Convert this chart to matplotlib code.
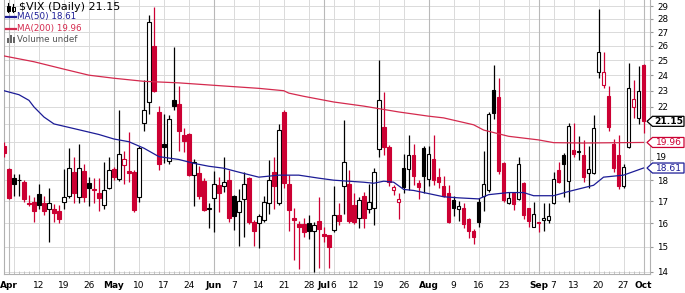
import matplotlib
matplotlib.use("Agg")
import matplotlib.pyplot as plt
import numpy as np
import pandas as pd
from matplotlib.patches import Polygon, Rectangle
from matplotlib.lines import Line2D
from matplotlib.transforms import blended_transform_factory, IdentityTransform, offset_copy

# trading days, 31 Mar - 1 Oct 2021
holidays = ["2021-04-02", "2021-05-31", "2021-07-05", "2021-09-06"]
dates = pd.bdate_range("2021-03-31", "2021-10-01")
dates = dates[~dates.isin(pd.to_datetime(holidays))]

prev_close = 19.61

opens = [19.75, 18.55, 18.10, 18.00, 17.92, 16.90, 16.97, 17.35, 16.90, 16.65,
         16.65, 16.55, 16.95, 17.25, 18.40, 17.20, 18.45, 17.85, 17.55, 17.40,
         16.80, 17.60, 18.55, 18.05, 18.75, 18.45, 18.40, 17.20, 21.05, 22.30,
         26.00, 21.70, 19.85, 18.95, 22.40, 22.20, 20.40, 20.45, 18.25, 18.35,
         17.95, 16.65, 17.15, 17.75, 17.70, 18.00, 17.25, 16.50, 17.10, 18.10,
         16.05, 16.00, 16.15, 16.90, 18.40, 16.90, 21.70, 17.80, 16.25, 15.95,
         15.95, 16.00, 15.65, 16.10, 15.55, 15.50, 15.70, 16.35, 17.70, 17.80,
         16.80, 16.25, 17.25, 16.65, 16.70, 19.60, 20.85, 19.70, 17.50, 16.95,
         18.60, 18.55, 19.30, 17.85, 19.65, 18.05, 19.05, 18.15, 17.70, 17.40,
         17.05, 16.65, 16.70, 16.20, 15.65, 16.95, 17.25, 17.50, 23.05, 22.60,
         18.85, 16.90, 17.40, 17.10, 17.85, 16.70, 15.85, 16.05, 16.15, 16.15,
         16.90, 18.50, 19.30, 17.95, 19.55, 19.50, 19.30, 18.35, 18.35, 24.20,
         23.35, 22.65, 19.85, 19.30, 17.70, 19.70, 22.00, 21.35, 24.70]
highs = [20.00, 18.60, 18.30, 18.30, 18.00, 17.27, 17.20, 17.80, 17.25, 17.60,
         16.85, 16.80, 18.55, 19.65, 19.20, 19.85, 18.80, 18.15, 18.10, 18.10,
         18.90, 19.20, 18.65, 21.80, 19.50, 20.55, 18.50, 19.75, 23.70, 28.30,
         28.90, 22.05, 21.60, 21.50, 25.90, 23.30, 20.75, 20.50, 19.10, 18.70,
         18.10, 16.90, 18.45, 18.15, 19.20, 18.50, 17.30, 17.55, 18.40, 18.15,
         16.15, 16.40, 17.25, 19.00, 19.20, 21.00, 21.80, 18.25, 16.70, 16.10,
         16.25, 16.35, 16.05, 17.20, 15.85, 15.50, 17.70, 16.90, 21.20, 18.50,
         17.40, 17.20, 17.45, 17.80, 18.60, 25.00, 22.90, 19.80, 17.75, 17.40,
         19.35, 20.40, 19.85, 18.00, 19.75, 19.75, 20.40, 18.60, 18.20, 17.75,
         17.25, 17.00, 16.90, 16.25, 15.75, 17.15, 19.50, 21.70, 24.70, 23.80,
         18.90, 17.45, 17.45, 19.20, 17.90, 16.70, 16.95, 16.05, 16.90, 16.90,
         18.40, 18.90, 19.40, 21.05, 21.05, 20.30, 20.10, 19.75, 21.50, 28.75,
         25.60, 23.30, 20.15, 20.35, 18.80, 24.80, 23.70, 24.60, 24.75]
lows = [19.20, 17.10, 17.25, 17.25, 16.95, 16.75, 16.05, 16.65, 16.35, 15.20,
        16.05, 16.00, 16.65, 17.15, 16.90, 16.90, 16.95, 16.75, 16.90, 16.55,
        16.65, 17.55, 18.00, 17.95, 17.80, 17.90, 16.50, 16.95, 20.60, 21.60,
        22.90, 18.50, 18.85, 18.80, 21.80, 19.50, 19.45, 18.20, 16.75, 17.10,
        16.55, 15.80, 15.60, 16.50, 17.45, 16.05, 15.70, 15.05, 15.40, 15.95,
        15.05, 14.95, 16.05, 16.40, 16.65, 16.80, 17.60, 15.65, 14.45, 14.10,
        15.40, 15.30, 14.00, 14.15, 15.20, 14.15, 15.60, 15.90, 16.40, 16.00,
        15.95, 15.80, 15.80, 16.45, 15.90, 19.20, 19.30, 17.70, 17.30, 16.20,
        17.40, 17.50, 17.75, 17.10, 17.40, 17.70, 17.75, 17.60, 17.20, 16.00,
        16.30, 16.10, 15.80, 15.35, 15.10, 15.85, 16.55, 17.45, 21.30, 18.30,
        16.95, 16.85, 16.60, 17.05, 16.20, 15.85, 15.85, 15.60, 15.65, 16.00,
        16.85, 17.85, 17.20, 16.95, 19.20, 19.00, 17.90, 17.60, 18.30, 23.80,
        23.20, 20.60, 18.40, 17.55, 17.60, 19.65, 21.35, 21.00, 20.50]
closes = [19.40, 17.15, 17.80, 18.03, 17.10, 16.85, 16.55, 16.80, 16.55, 16.90,
          16.45, 16.20, 17.20, 18.60, 17.40, 18.60, 17.20, 17.60, 17.50, 17.15,
          17.50, 18.50, 18.15, 19.35, 19.05, 18.35, 16.60, 19.65, 21.80, 27.80,
          23.00, 18.80, 19.72, 21.30, 22.05, 20.60, 20.05, 18.25, 18.90, 17.25,
          16.60, 16.70, 17.80, 17.40, 17.92, 16.25, 16.30, 17.00, 17.80, 16.05,
          15.65, 16.30, 16.95, 18.00, 17.70, 20.65, 17.85, 16.60, 16.15, 15.85,
          15.60, 15.68, 15.90, 15.75, 15.45, 15.00, 16.35, 16.10, 18.90, 16.10,
          16.05, 17.05, 16.25, 16.95, 18.40, 22.40, 19.70, 17.90, 17.65, 17.10,
          17.65, 19.30, 18.20, 17.65, 18.20, 19.35, 18.00, 17.93, 17.25, 16.05,
          16.70, 16.75, 15.97, 15.65, 15.40, 16.05, 17.80, 21.55, 21.65, 18.45,
          17.05, 17.15, 16.85, 18.80, 16.35, 16.10, 16.40, 16.00, 16.25, 16.30,
          18.05, 17.90, 18.80, 20.90, 19.35, 19.45, 18.15, 18.55, 20.75, 25.60,
          24.20, 20.85, 18.60, 17.70, 18.65, 23.15, 22.50, 23.00, 21.15]

# moving averages at these trading-day indices
ma50_idx = [0, 3, 5, 6, 8, 10, 13, 16, 19, 22, 25, 28, 31, 35, 38, 41, 44, 47,
            51, 55, 59, 63, 66, 69, 72, 74, 76, 78, 80, 82, 85, 88, 91, 95, 97,
            101, 104, 106, 110, 113, 118, 120, 124, 128]
ma50_val = [23.0, 22.75, 22.4, 22.0, 21.4, 21.0, 20.8, 20.6, 20.4, 20.15, 20.0,
            19.65, 19.2, 19.05, 18.85, 18.7, 18.6, 18.4, 18.15, 18.25, 18.25,
            18.1, 18.0, 17.95, 17.9, 17.85, 17.95, 17.9, 17.55, 17.5, 17.35,
            17.2, 17.15, 17.1, 17.3, 17.4, 17.4, 17.25, 17.25, 17.45, 17.75,
            18.15, 18.25, 18.61]
ma200_idx = [0, 6, 12, 17, 22, 28, 35, 44, 51, 56, 57, 60, 66, 72, 79, 85, 88,
             94, 96, 101, 107, 110, 116, 128]
ma200_val = [25.3, 24.9, 24.4, 24.0, 23.8, 23.6, 23.5, 23.3, 23.15, 23.0, 22.85,
             22.65, 22.3, 22.05, 21.7, 21.45, 21.35, 20.95, 20.65, 20.3, 20.1,
             19.95, 19.93, 19.96]

last_close = 21.15
last_ma50 = 18.61
last_ma200 = 19.96

RED = "#cc0033"
NAVY = "#1c1c96"
MA_RED = "#d42a4e"

fig = plt.figure(figsize=(6.85, 2.93), dpi=100)
ax = fig.add_axes([4 / 685, 19 / 293, 646 / 685, 274 / 293])
ax.set_yscale("log")

x = np.arange(len(dates))
o, h, l, c = (np.array(a) for a in (opens, highs, lows, closes))
pc = np.r_[prev_close, c[:-1]]
col = np.where(c >= pc, "black", RED)
filled = c < o
face = [cc if f else "white" for cc, f in zip(col, filled)]

ax.vlines(x, l, h, colors=col, lw=0.9, zorder=3)
ax.bar(x, np.abs(c - o), bottom=np.minimum(o, c), width=0.72, color=face,
       edgecolor=col, linewidth=0.8, zorder=4)

ax.plot(ma200_idx, ma200_val, color=MA_RED, lw=0.9, zorder=5)
ax.plot(ma50_idx, ma50_val, color=NAVY, lw=0.9, zorder=5)

ax.set_xlim(0.1, 129.3)
ax.set_ylim(13.92, 29.49)

# y axis on the right; 20 and 21 sit under the flags, 19 is nudged up
yt = list(range(14, 30))
ax.set_yticks(yt)
ax.set_yticklabels(["" if v in (19, 20, 21) else str(v) for v in yt])
ax.yaxis.set_minor_locator(matplotlib.ticker.NullLocator())
ax.yaxis.tick_right()
ax.tick_params(axis="y", length=2, color="#999999", labelsize=6.3, pad=3)
ytr = offset_copy(blended_transform_factory(ax.transAxes, ax.transData),
                  fig=fig, x=5, y=2.5, units="dots")
ax.text(1.0, 19, "19", transform=ytr, ha="left", va="center", fontsize=6.3,
        clip_on=False)
for v in yt:
    ax.axhline(v, color="#dadada", lw=0.7, zorder=1)

# x axis: weekly and monthly grid lines
month_start = [i for i in range(1, len(dates)) if dates[i].month != dates[i - 1].month]
week_start = [i for i in range(1, len(dates)) if dates[i].weekday() < dates[i - 1].weekday()]
for i in week_start:
    if i not in month_start:
        ax.axvline(i, color="#dadada", lw=0.7, zorder=1)
for i in month_start:
    ax.axvline(i, color="#b9b9b9", lw=0.8, zorder=1)

ax.set_xticks([])
ax.set_xticks(x, minor=True)
ax.tick_params(axis="x", which="minor", direction="in", length=2, color="#bbbbbb")
tr = blended_transform_factory(ax.transData, ax.transAxes)
for i in month_start:
    ax.text(i, -0.043, dates[i].strftime("%b"), transform=tr, ha="center",
            va="center", fontsize=6.5, fontweight="bold", clip_on=False)
for i in week_start:
    if i in month_start:
        continue
    if any(0 < m - i <= 2 or 0 < i - m <= 1 for m in month_start):
        continue
    ax.text(i, -0.043, str(dates[i].day), transform=tr, ha="center",
            va="center", fontsize=6.5, clip_on=False)

for s in ("left", "right", "bottom"):
    ax.spines[s].set_color("#b0b0b0")
    ax.spines[s].set_linewidth(0.8)
ax.spines["top"].set_visible(False)

# value flags on the right edge
flags = [(last_close, "black", "black", "bold"),
         (last_ma200, RED, RED, "normal"),
         (last_ma50, NAVY, NAVY, "normal")]
for v, ec, tc, wt in flags:
    yd = ax.transData.transform((0, v))[1]
    pts = [(647, yd), (652.5, yd + 5), (684, yd + 5), (684, yd - 5), (652.5, yd - 5)]
    fig.add_artist(Polygon(pts, closed=True, transform=IdentityTransform(),
                           fc="white", ec=ec, lw=0.9, zorder=10))
    fig.text(668.5 / 685, yd / 293, f"{v:.2f}", ha="center", va="center",
             fontsize=6.6, color=tc, fontweight=wt, zorder=11)

# legend block, top left
def fx(px):
    return px / 685

def fy(py):
    return 1 - py / 293

fig.text(fx(19), fy(7.5), "$VIX (Daily) 21.15", fontsize=8, va="center", color="black")
fig.text(fx(17), fy(17), "MA(50) 18.61", fontsize=6.3, va="center", color=NAVY)
fig.text(fx(17), fy(28.5), "MA(200) 19.96", fontsize=6.3, va="center", color=MA_RED)
fig.text(fx(17), fy(39), "Volume undef", fontsize=6.3, va="center", color="#555555")

fig.add_artist(Line2D([fx(6), fx(16)], [fy(17), fy(17)], color=NAVY, lw=1.6))
fig.add_artist(Line2D([fx(6), fx(16)], [fy(28.5), fy(28.5)], color=MA_RED, lw=1.6))

# small candle icon
for cx, top, bot in [(8, 4, 11), (13, 5, 11)]:
    fig.add_artist(Line2D([fx(cx), fx(cx)], [fy(top - 1), fy(bot + 1)], color="black", lw=0.8))
    fig.add_artist(Rectangle((fx(cx - 1.5), fy(bot)), fx(3), (bot - top - 2) / 293,
                             fc="black" if cx == 8 else "white", ec="black", lw=0.7))
# volume icon
for bx, bh in [(7, 5), (10, 8), (13, 6)]:
    fig.add_artist(Rectangle((fx(bx), fy(43)), fx(2.2), bh / 293, fc="#666666", ec="none"))

fig.savefig("out.png", dpi=100)
